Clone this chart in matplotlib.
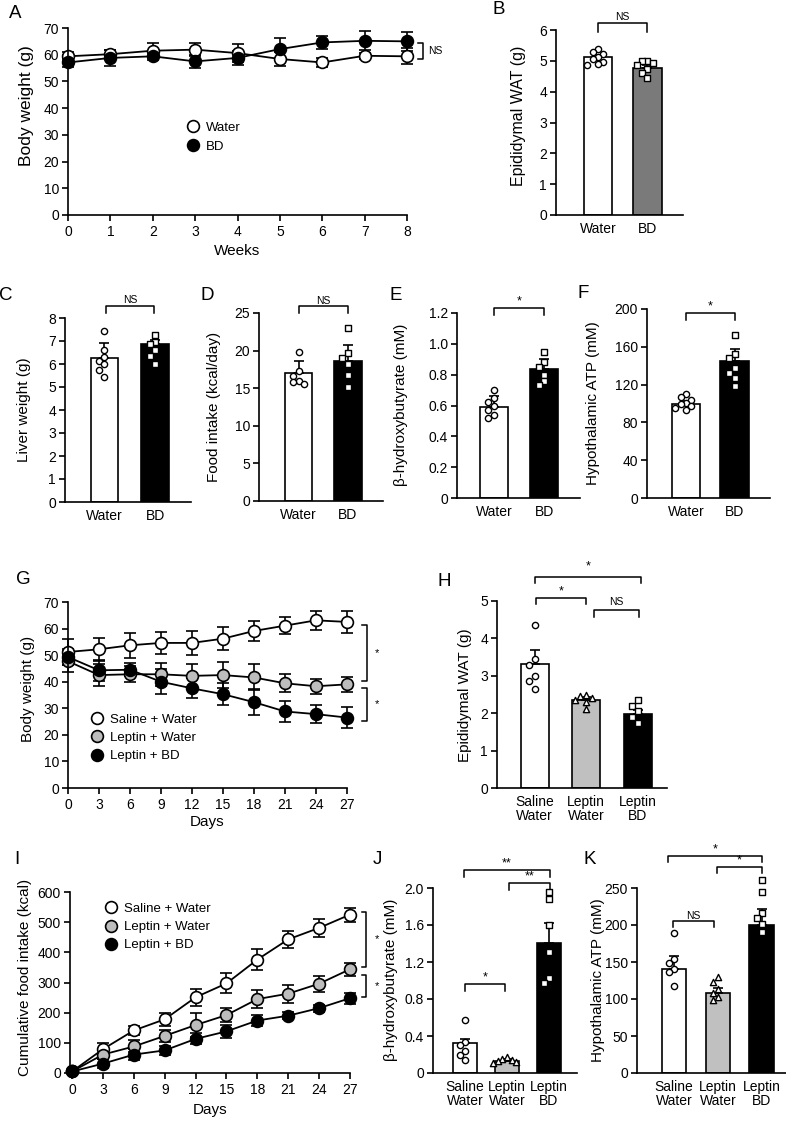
import numpy as np
import matplotlib
matplotlib.use("Agg")
import matplotlib.pyplot as plt
from matplotlib.lines import Line2D
from matplotlib.ticker import FuncFormatter

plt.rcParams['font.family'] = ['Liberation Sans', 'DejaVu Sans']
plt.rcParams['axes.linewidth'] = 1.2
plt.rcParams['xtick.major.width'] = 1.2
plt.rcParams['ytick.major.width'] = 1.2
plt.rcParams['xtick.major.size'] = 4
plt.rcParams['ytick.major.size'] = 4
plt.rcParams['xtick.labelsize'] = 10
plt.rcParams['ytick.labelsize'] = 10
plt.rcParams['ytick.major.pad'] = 2.5

# ---------------- data ----------------
# A: body weight over weeks
weeks = list(range(9))
a_water = [59.4, 60.2, 61.5, 61.9, 60.6, 58.4, 57.1, 59.6, 59.4]
a_water_sem = [1.5, 1.5, 2.7, 2.3, 3.5, 2.8, 1.8, 1.2, 3.0]
a_bd = [57.1, 58.8, 59.4, 57.5, 58.8, 62.1, 64.6, 65.2, 65.0]
a_bd_sem = [1.8, 3.0, 1.2, 2.5, 2.5, 4.0, 2.5, 3.6, 3.6]

two_groups = ['Water', 'BD']
three_groups = ['Saline\nWater', 'Leptin\nWater', 'Leptin\nBD']

# B: epididymal WAT
b_mean = [5.12, 4.78]
b_sem = [0.06, 0.08]
b_water = [5.38, 5.30, 5.22, 5.12, 5.05, 4.95, 4.90, 4.88]
b_bd = [5.00, 4.98, 4.92, 4.85, 4.75, 4.60, 4.45]

# C: liver weight
c_mean = [6.25, 6.85]
c_sem = [0.68, 0.20]
c_water = [7.45, 6.6, 6.3, 6.15, 6.0, 5.75, 5.45]
c_bd = [7.25, 6.95, 6.85, 6.6, 6.35, 6.0]

# D: food intake
d_mean = [17.0, 18.6]
d_sem = [1.6, 2.1]
d_water = [19.8, 17.3, 16.6, 16.0, 15.8, 15.5]
d_bd = [23.0, 19.7, 19.0, 18.2, 16.8, 15.2]

# E: beta-hydroxybutyrate
e_mean = [0.59, 0.84]
e_sem = [0.07, 0.06]
e_water = [0.70, 0.65, 0.62, 0.60, 0.57, 0.54, 0.52]
e_bd = [0.95, 0.88, 0.85, 0.80, 0.76, 0.73]

# F: hypothalamic ATP
f_mean = [100, 145]
f_sem = [3, 13]
f_water = [110, 107, 104, 101, 99, 97, 95, 93]
f_bd = [172, 152, 148, 138, 132, 127, 118]

# G: body weight over days
days = list(range(0, 28, 3))
g_sal = [51.2, 52.2, 53.7, 54.6, 54.6, 56.2, 59.1, 61.1, 63.1, 62.5]
g_sal_sem = [5.0, 4.3, 4.6, 4.1, 4.4, 4.4, 3.8, 3.3, 3.6, 4.0]
g_lw = [47.7, 42.5, 42.8, 42.8, 42.2, 42.5, 41.6, 39.4, 38.3, 39.0]
g_lw_sem = [4.0, 4.0, 3.0, 4.4, 4.3, 5.0, 4.9, 3.4, 2.9, 2.9]
g_lbd = [49.3, 44.3, 44.5, 40.0, 37.5, 35.3, 32.3, 28.8, 27.8, 26.5]
g_lbd_sem = [3.0, 4.0, 2.5, 4.8, 3.8, 4.2, 5.0, 3.8, 3.4, 4.0]

# H: epididymal WAT, leptin study
h_mean = [3.32, 2.35, 1.97]
h_sem = [0.38, 0.08, 0.12]
h_sal = [4.35, 3.45, 3.3, 3.0, 2.85, 2.65]
h_lw = [2.5, 2.45, 2.4, 2.35, 2.3, 2.1]
h_lbd = [2.35, 2.2, 2.05, 1.9, 1.75]

# I: cumulative food intake
i_sal = [5, 79, 141, 178, 251, 297, 376, 443, 481, 525]
i_sal_sem = [5, 20, 15, 22, 28, 33, 34, 28, 29, 23]
i_lw = [5, 61, 88, 123, 159, 192, 245, 263, 296, 344]
i_lw_sem = [5, 15, 20, 20, 40, 23, 30, 30, 27, 22]
i_lbd = [5, 31, 61, 75, 113, 138, 174, 190, 215, 248]
i_lbd_sem = [5, 15, 18, 15, 18, 22, 18, 12, 12, 18]

# J: beta-hydroxybutyrate, leptin study
j_mean = [0.32, 0.135, 1.41]
j_sem = [0.05, 0.02, 0.21]
j_sal = [0.57, 0.33, 0.30, 0.24, 0.20, 0.14]
j_lw = [0.17, 0.15, 0.14, 0.13, 0.12, 0.11]
j_lbd = [1.96, 1.88, 1.60, 1.31, 1.03, 0.97]

# K: hypothalamic ATP, leptin study
k_mean = [140, 108, 199.5]
k_sem = [18, 7, 22]
k_sal = [189, 154, 148, 140, 136, 117]
k_lw = [130, 123, 113, 108, 103, 98]
k_lbd = [261, 245, 216, 209, 201, 190]

# ---------------- helpers ----------------
W, H = 786, 1122
fig = plt.figure(figsize=(W / 100, H / 100), dpi=100)


def axes_px(left, top, right, bottom):
    return fig.add_axes([left / W, 1 - bottom / H, (right - left) / W, (bottom - top) / H])


def ylabel_at(ax, text, px_x, px_y, fs=11):
    pos = ax.get_position()
    l, r = pos.x0 * W, pos.x1 * W
    t, b = (1 - pos.y1) * H, (1 - pos.y0) * H
    ax.set_ylabel(text, fontsize=fs, va='center')
    ax.yaxis.set_label_coords((px_x - l) / (r - l), (b - px_y) / (b - t))


def swarm(vals, near, step):
    offs = []
    for i, v in enumerate(vals):
        taken = [offs[j] for j in range(i) if abs(vals[j] - v) < near]
        for c in (0.0, -step, step, -2 * step, 2 * step, -3 * step, 3 * step):
            if all(abs(c - t) > step * 0.5 for t in taken):
                break
        offs.append(c)
    return np.array(offs)


def bar_panel(ax, means, sems, groups, colors, markers, labels, xlim, ylim, width):
    x = np.arange(len(means))
    ax.bar(x, means, width=width, color=colors, edgecolor='black', linewidth=1.2, zorder=2)
    ax.errorbar(x, means, yerr=[np.zeros(len(sems)), sems], fmt='none', ecolor='black',
                elinewidth=1.2, capsize=3.5, capthick=1.2, zorder=3)
    near = 0.032 * (ylim[1] - ylim[0])
    for xi, pts, mk in zip(x, groups, markers):
        ax.scatter(xi + swarm(pts, near, 0.11), pts, marker=mk, s=20, facecolor='white',
                   edgecolor='black', linewidth=1.0, zorder=4, clip_on=False)
    ax.set_xlim(*xlim)
    ax.set_ylim(*ylim)
    ax.set_xticks(x)
    ax.set_xticklabels(labels, linespacing=1.0)
    ax.tick_params(axis='x', length=0, pad=5)
    ax.spines[['top', 'right']].set_visible(False)


def bracket(ax, x0, x1, y, drop, label, fs=8, gap=0.5):
    ax.plot([x0, x0, x1, x1], [y - drop, y, y, y - drop], color='black', lw=1.1, clip_on=False)
    ax.annotate(label, xy=((x0 + x1) / 2, y), xytext=(0, gap), textcoords='offset points',
                ha='center', va='bottom', fontsize=fs, annotation_clip=False)


def side_bracket(ax, x0, x1, ylo, yhi, label, xt, fs=8):
    ax.plot([x0, x1, x1, x0], [ylo, ylo, yhi, yhi], color='black', lw=1.1, clip_on=False)
    ax.text(xt, (ylo + yhi) / 2, label, ha='left', va='center', fontsize=fs, clip_on=False)


def line_panel(ax, x, series, sems, faces):
    for y, e, fc in zip(series, sems, faces):
        ax.errorbar(x, y, yerr=e, fmt='-o', color='black', mfc=fc, mec='black', ms=8.5,
                    mew=1.2, lw=1.3, elinewidth=1.2, capsize=4, capthick=1.2, clip_on=False)
    ax.spines[['top', 'right']].set_visible(False)


def decimal_fmt(v, _):
    return '0' if v == 0 else f'{v:.1f}'


# ---------------- A ----------------
ax = axes_px(68, 28, 407, 215)
line_panel(ax, weeks, [a_water, a_bd], [a_water_sem, a_bd_sem], ['white', 'black'])
ax.set_xlim(0, 8)
ax.set_ylim(0, 70)
ax.set_xticks(weeks)
ax.set_yticks(range(0, 71, 10))
ax.set_xlabel('Weeks', fontsize=11, labelpad=3)
ylabel_at(ax, 'Body weight (g)', 27, 106, fs=12.5)
side_bracket(ax, 8.26, 8.38, 58.4, 64.4, 'NS', 8.5, fs=7.5)
handles = [Line2D([], [], ls='none', marker='o', ms=8.5, mfc=c, mec='black', mew=1.2)
           for c in ['white', 'black']]
ax.legend(handles, ['Water', 'BD'], loc='upper left', bbox_to_anchor=(0.349, 0.50),
          frameon=False, fontsize=9.5, handlelength=1.0, handletextpad=0.5,
          labelspacing=0.5, borderpad=0, borderaxespad=0)

# ---------------- B ----------------
ax = axes_px(556, 30, 683, 215)
bar_panel(ax, b_mean, b_sem, [b_water, b_bd], ['white', '#7a7a7a'], ['o', 's'], two_groups,
          (-0.85, 1.72), (0, 6), 0.57)
ax.set_yticks(range(0, 7))
ylabel_at(ax, 'Epididymal WAT (g)', 518, 116, fs=11.5)
bracket(ax, 0, 1, 6.23, 0.29, 'NS', fs=7.5)

# ---------------- C ----------------
ax = axes_px(65, 318, 191, 502)
bar_panel(ax, c_mean, c_sem, [c_water, c_bd], ['white', 'black'], ['o', 's'], two_groups,
          (-0.78, 1.71), (0, 8), 0.54)
ax.set_yticks(range(0, 9))
ylabel_at(ax, 'Liver weight (g)', 24, 410)
bracket(ax, 0.03, 0.98, 8.52, 0.3, 'NS', fs=7.5)

# ---------------- D ----------------
ax = axes_px(259, 313, 383, 501)
bar_panel(ax, d_mean, d_sem, [d_water, d_bd], ['white', 'black'], ['o', 's'], two_groups,
          (-0.8, 1.71), (0, 25), 0.56)
ax.set_yticks(range(0, 26, 5))
ylabel_at(ax, 'Food intake (kcal/day)', 214, 407)
bracket(ax, 0, 1, 25.9, 0.9, 'NS', fs=7.5)

# ---------------- E ----------------
ax = axes_px(457, 313, 580, 498)
bar_panel(ax, e_mean, e_sem, [e_water, e_bd], ['white', 'black'], ['o', 's'], two_groups,
          (-0.74, 1.72), (0, 1.2), 0.56)
ax.set_yticks(np.arange(0, 1.21, 0.2))
ax.yaxis.set_major_formatter(FuncFormatter(decimal_fmt))
ylabel_at(ax, '\u03b2-hydroxybutyrate (mM)', 401, 405)
bracket(ax, 0, 1, 1.233, 0.045, '*', fs=9)

# ---------------- F ----------------
ax = axes_px(647, 309, 770, 498)
bar_panel(ax, f_mean, f_sem, [f_water, f_bd], ['white', 'black'], ['o', 's'], two_groups,
          (-0.8, 1.73), (0, 200), 0.58)
ax.set_yticks(range(0, 201, 40))
ylabel_at(ax, 'Hypothalamic ATP (mM)', 593, 403)
bracket(ax, 0, 1, 196, 8, '*', fs=9)

# ---------------- G ----------------
ax = axes_px(68, 602, 347, 788)
line_panel(ax, days, [g_sal, g_lw, g_lbd], [g_sal_sem, g_lw_sem, g_lbd_sem],
           ['white', '#bdbdbd', 'black'])
ax.set_xlim(0, 27)
ax.set_ylim(0, 70)
ax.set_xticks(days)
ax.set_yticks(range(0, 71, 10))
ax.set_xlabel('Days', fontsize=11, labelpad=2)
ylabel_at(ax, 'Body weight (g)', 28, 689)
side_bracket(ax, 28.45, 28.9, 40.3, 61.3, '*', 29.7, fs=8)
side_bracket(ax, 28.45, 28.9, 25.2, 37.6, '*', 29.7, fs=8)
handles = [Line2D([], [], ls='none', marker='o', ms=8.5, mfc=c, mec='black', mew=1.2)
           for c in ['white', '#bdbdbd', 'black']]
ax.legend(handles, ['Saline + Water', 'Leptin + Water', 'Leptin + BD'], loc='upper left',
          bbox_to_anchor=(0.08, 0.40), frameon=False, fontsize=9.5, handlelength=1.0,
          handletextpad=0.5, labelspacing=0.45, borderpad=0, borderaxespad=0)

# ---------------- H ----------------
ax = axes_px(497, 601, 667, 788)
bar_panel(ax, h_mean, h_sem, [h_sal, h_lw, h_lbd], ['white', '#c0c0c0', 'black'],
          ['o', '^', 's'], three_groups, (-0.73, 2.57), (0, 5), 0.54)
ax.set_yticks(range(0, 6))
ylabel_at(ax, 'Epididymal WAT (g)', 465, 695)
bracket(ax, 0, 2.07, 5.64, 0.17, '*', fs=9, gap=3)
bracket(ax, 0.02, 1.0, 5.08, 0.17, '*', fs=9)
bracket(ax, 1.15, 2.02, 4.76, 0.19, 'NS', fs=7.5, gap=2.5)

# ---------------- I ----------------
ax = axes_px(70, 892, 350, 1073)
line_panel(ax, days, [i_sal, i_lw, i_lbd], [i_sal_sem, i_lw_sem, i_lbd_sem],
           ['white', '#bdbdbd', 'black'])
ax.set_xlim(-0.2, 27)
ax.set_ylim(0, 600)
ax.set_xticks(days)
ax.set_yticks(range(0, 601, 100))
ax.set_xlabel('Days', fontsize=11, labelpad=4)
ylabel_at(ax, 'Cumulative food intake (kcal)', 25, 977)
side_bracket(ax, 28.2, 28.6, 351, 534, '*', 29.4, fs=8)
side_bracket(ax, 28.2, 28.6, 252, 325, '*', 29.4, fs=8)
ax.legend(handles, ['Saline + Water', 'Leptin + Water', 'Leptin + BD'], loc='upper left',
          bbox_to_anchor=(0.123, 0.94), frameon=False, fontsize=9.5, handlelength=1.0,
          handletextpad=0.5, labelspacing=0.45, borderpad=0, borderaxespad=0)

# ---------------- J ----------------
ax = axes_px(433, 888, 577, 1073)
bar_panel(ax, j_mean, j_sem, [j_sal, j_lw, j_lbd], ['white', '#c0c0c0', 'black'],
          ['o', '^', 's'], three_groups, (-0.76, 2.67), (0, 2.0), 0.57)
ax.set_yticks(np.arange(0, 2.01, 0.4))
ax.yaxis.set_major_formatter(FuncFormatter(decimal_fmt))
ylabel_at(ax, '\u03b2-hydroxybutyrate (mM)', 391, 980)
bracket(ax, -0.02, 2.02, 2.19, 0.07, '**', fs=9)
bracket(ax, 1.05, 2.02, 2.05, 0.07, '**', fs=9)
bracket(ax, 0, 0.95, 0.96, 0.07, '*', fs=9)

# ---------------- K ----------------
ax = axes_px(637, 888, 786, 1073)
bar_panel(ax, k_mean, k_sem, [k_sal, k_lw, k_lbd], ['white', '#c0c0c0', 'black'],
          ['o', '^', 's'], three_groups, (-0.85, 2.56), (0, 250), 0.56)
ax.set_yticks(range(0, 251, 50))
ylabel_at(ax, 'Hypothalamic ATP (mM)', 598, 980)
bracket(ax, -0.14, 2.01, 293, 8, '*', fs=9)
bracket(ax, 0.98, 2.01, 278, 8, '*', fs=9)
bracket(ax, -0.02, 0.91, 205, 8, 'NS', fs=7.5)

# ---------------- panel letters ----------------
letters = {'A': (15, 13), 'B': (499, 9), 'C': (6, 296), 'D': (207, 296), 'E': (396, 296),
           'F': (583, 293), 'G': (23, 580), 'H': (444, 581), 'I': (17, 860),
           'J': (377, 860), 'K': (590, 860)}
for name, (px, py) in letters.items():
    fig.text(px / W, 1 - py / H, name, ha='center', va='center', fontsize=13.5)

fig.savefig('out.png', dpi=100)
